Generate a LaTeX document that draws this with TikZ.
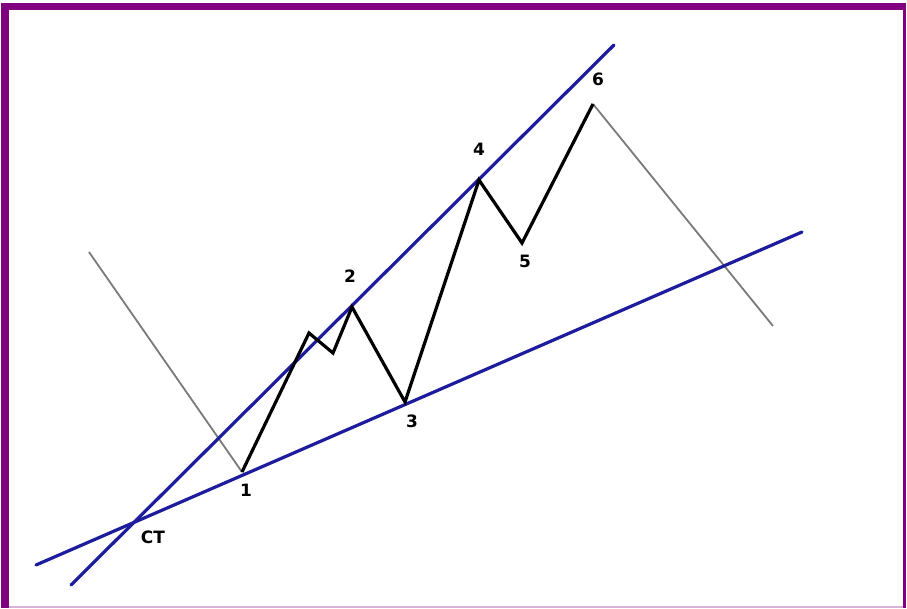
\documentclass[tikz,border=0pt]{standalone}
\usepackage{fontspec}
\setmainfont{DejaVu Sans}
\definecolor{bordpurple}{HTML}{800080}
\definecolor{trendblue}{HTML}{1C1C9C}
\definecolor{wavegray}{HTML}{7A7A7A}
\begin{document}
\begin{tikzpicture}[x=1pt,y=-1pt,
  trend/.style={trendblue,line width=3.2pt,line cap=round},
  wave/.style={black,line width=3.2pt,line join=miter},
  thin/.style={wavegray,line width=1.8pt},
  lbl/.style={font=\bfseries\fontsize{17}{17}\selectfont,inner sep=0pt}]
\useasboundingbox (0,0) rectangle (907,608);
\fill[bordpurple] (1,3) rectangle (906,608);
\fill[white] (9,10) rectangle (903,606);
\fill[bordpurple!30] (9,606) rectangle (903,608);
% points
\coordinate (a) at (89,252);
\coordinate (p1) at (242,472);
\coordinate (q1) at (309,333);
\coordinate (q2) at (333,353);
\coordinate (p2) at (352,307);
\coordinate (p3) at (405,402);
\coordinate (p4) at (479,180);
\coordinate (p5) at (522,243);
\coordinate (p6) at (593,104);
\coordinate (e) at (773,326);
\coordinate (u1) at (71,585);
\coordinate (u2) at (614,45);
\coordinate (l1) at (36,565);
\coordinate (l2) at (802,232);
% gray legs
\draw[thin] (a) -- (p1);
\draw[thin] (p6) -- (e);
% trend lines
\draw[trend] (u1) -- (u2);
\draw[trend] (l1) -- (l2);
% wave
\draw[wave] (p1) -- (q1) -- (q2) -- (p2) -- (p3) -- (p4) -- (p5) -- (p6);
% labels
\node[lbl] (t1) at (246,490) {1};
\node[lbl] (t2) at (350,276) {2};
\node[lbl] (t3) at (412,421) {3};
\node[lbl] (t4) at (479,149) {4};
\node[lbl] (t5) at (525,261) {5};
\node[lbl] (t6) at (598,79) {6};
\node[lbl] (tct) at (153,537) {CT};
\end{tikzpicture}
\end{document}
